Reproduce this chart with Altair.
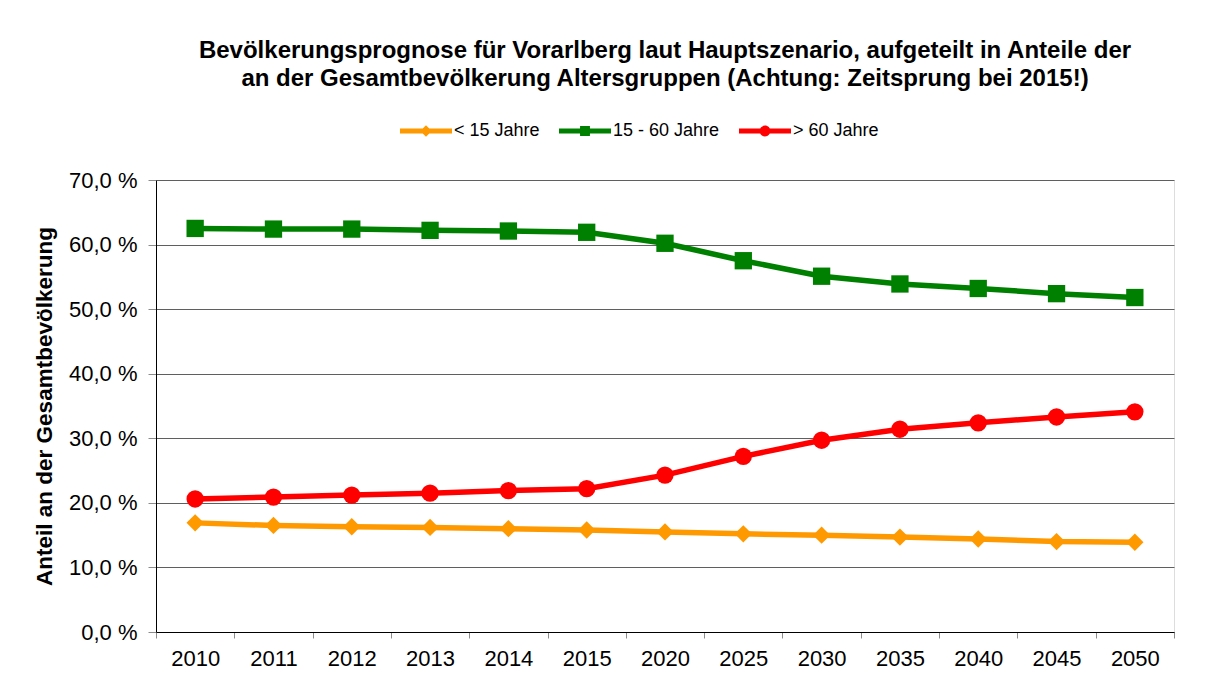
import altair as alt
import pandas as pd

years = ["2010", "2011", "2012", "2013", "2014", "2015", "2020", "2025",
         "2030", "2035", "2040", "2045", "2050"]
series_names = ["< 15 Jahre", "15 - 60 Jahre", "> 60 Jahre"]
unter_15 = [16.9, 16.5, 16.3, 16.2, 16.0, 15.8, 15.5, 15.2, 15.0, 14.7, 14.4, 14.0, 13.9]
von_15_bis_60 = [62.5, 62.4, 62.4, 62.2, 62.1, 61.9, 60.2, 57.5, 55.1, 53.9, 53.2, 52.4, 51.8]
ueber_60 = [20.6, 20.9, 21.2, 21.5, 21.9, 22.2, 24.3, 27.2, 29.7, 31.4, 32.4, 33.3, 34.1]
y_ticks = [0, 10, 20, 30, 40, 50, 60, 70]

colors = ["#FF9900", "#008000", "#FF0000"]
shapes = ["diamond", "square", "circle"]
legend_paths = [
    "M-1,-0.1H1V0.1H-1Z M0,-0.22L0.22,0L0,0.22L-0.22,0Z",
    "M-1,-0.1H1V0.1H-1Z M-0.19,-0.19H0.19V0.19H-0.19Z",
    "M-1,-0.1H1V0.1H-1Z M-0.21,0A0.21,0.21 0 1,1 0.21,0A0.21,0.21 0 1,1 -0.21,0Z",
]

rows = []
for name, vals in zip(series_names, [unter_15, von_15_bis_60, ueber_60]):
    for y, v in zip(years, vals):
        rows.append({"Jahr": y, "Serie": name, "Wert": v})
df = pd.DataFrame(rows)

FONT = "Liberation Sans"

x_enc = alt.X(
    "Jahr:O",
    sort=years,
    scale=alt.Scale(type="band", paddingInner=0, paddingOuter=0),
    axis=alt.Axis(
        title=None, tickBand="extent", labelAngle=0, labelFontSize=22,
        labelFont=FONT, labelColor="#000000", tickColor="#8c8c8c", tickSize=6,
        domainColor="#000000", labelPadding=10,
    ),
)
y_enc = alt.Y(
    "Wert:Q",
    scale=alt.Scale(domain=[0, 70], nice=False),
    axis=alt.Axis(
        title="Anteil an der Gesamtbevölkerung", values=y_ticks,
        labelExpr="replace(format(datum.value, '.1f'), '.', ',') + ' %'",
        labelFontSize=22, labelFont=FONT, labelColor="#000000",
        tickColor="#8c8c8c", tickSize=8, labelPadding=11, domainColor="#000000",
        titleFont=FONT, titleFontSize=22.5, titleFontWeight="bold",
        titleColor="#000000", titlePadding=12,
        grid=True, gridColor="#5f5f5f", gridWidth=1,
    ),
)

base = alt.Chart(df)
layers = []
for name, col, shp in zip(series_names, colors, shapes):
    sub = base.transform_filter(alt.datum.Serie == name)
    layers.append(sub.mark_line(color=col, strokeWidth=5.5).encode(x=x_enc, y=y_enc))
for name, col, shp in zip(series_names, colors, shapes):
    sub = base.transform_filter(alt.datum.Serie == name)
    layers.append(
        sub.mark_point(shape=shp, filled=True, color=col, size=300, opacity=1)
        .encode(x=x_enc, y=y_enc)
    )

legend_layer = base.transform_filter("false").mark_point(filled=True, opacity=1).encode(
    x=x_enc,
    y=y_enc,
    color=alt.Color(
        "Serie:N",
        scale=alt.Scale(domain=series_names, range=colors),
        legend=alt.Legend(
            title=None, orient="none", direction="horizontal",
            legendX=244, legendY=-75, symbolSize=2704, symbolStrokeWidth=0,
            labelFontSize=18, labelFont=FONT, labelColor="#000000",
            labelOffset=2, columnPadding=19, symbolOpacity=1,
        ),
    ),
    shape=alt.Shape(
        "Serie:N",
        scale=alt.Scale(domain=series_names, range=legend_paths),
    ),
)
layers.append(legend_layer)

chart = alt.layer(*layers).properties(
    width=1018,
    height=452,
    autosize=alt.AutoSizeParams(type="none"),
    padding={"left": 148, "top": 172, "right": 24, "bottom": 40},
    title=alt.TitleParams(
        text=["Bevölkerungsprognose für Vorarlberg laut Hauptszenario, aufgeteilt in Anteile der",
              "an der Gesamtbevölkerung Altersgruppen (Achtung: Zeitsprung bei 2015!)"],
        anchor="middle", fontSize=24, fontWeight="bold", font=FONT,
        color="#000000", lineHeight=28, offset=14,
    ),
).configure_view(
    fill="#EBF1DE", stroke="#404040", strokeWidth=1
).configure(background="#ffffff")

chart.save("out.html", embed_options={"renderer": "svg", "actions": False})
